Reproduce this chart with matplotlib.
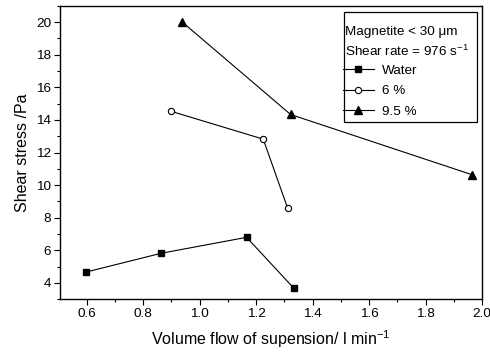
import matplotlib
matplotlib.use("Agg")
import matplotlib.pyplot as plt
from matplotlib.ticker import MultipleLocator
from matplotlib.patches import Rectangle

plt.rcParams['font.family'] = ['Liberation Sans', 'DejaVu Sans']
plt.rcParams['mathtext.fontset'] = 'custom'
plt.rcParams['mathtext.rm'] = 'Liberation Sans'

# data
water_x = [0.597, 0.863, 1.166, 1.334]
water_y = [4.67, 5.82, 6.80, 3.67]
pct6_x = [0.898, 1.225, 1.311]
pct6_y = [14.53, 12.82, 8.61]
pct95_x = [0.938, 1.322, 1.966]
pct95_y = [20.0, 14.33, 10.63]

fig = plt.figure(figsize=(4.9, 3.54), dpi=100)
ax = fig.add_axes([0.1224, 0.1545, 0.8613, 0.8294])

ax.plot(water_x, water_y, '-s', color='black', lw=0.8, ms=5, label='Water')
ax.plot(pct6_x, pct6_y, '-o', color='black', mfc='white', mew=0.8, lw=0.8, ms=4.5, label='6 %')
ax.plot(pct95_x, pct95_y, '-^', color='black', lw=0.8, ms=5.5, label='9.5 %')

ax.set_xlim(0.505, 2.0)
ax.set_ylim(3, 21)
ax.xaxis.set_major_locator(MultipleLocator(0.2))
ax.xaxis.set_minor_locator(MultipleLocator(0.1))
ax.yaxis.set_major_locator(MultipleLocator(2))
ax.yaxis.set_minor_locator(MultipleLocator(1))
ax.set_yticks([4, 6, 8, 10, 12, 14, 16, 18, 20])
ax.tick_params(which='major', direction='out', length=4, width=0.8, labelsize=9.7, pad=2.5)
ax.tick_params(which='minor', direction='out', length=2.2, width=0.8)
for s in ax.spines.values():
    s.set_linewidth(1.0)

ax.set_xlabel('Volume flow of supension/ l min$^{-1}$', fontsize=11.5, labelpad=6)
ax.set_ylabel('Shear stress /Pa', fontsize=11.5, labelpad=4)

# legend box with two header lines
ax.add_patch(Rectangle((344 / 490, 1 - 122.3 / 354), (477 - 344) / 490, (122.3 - 11.7) / 354,
                       transform=fig.transFigure, fill=False, lw=0.9, ec='black', zorder=5))
fig.text(345 / 490, 1 - 31.7 / 354, 'Magnetite < 30 μm', fontsize=9.7, va='center')
fig.text(345 / 490, 1 - 51 / 354, 'Shear rate = 976 s$^{-1}$', fontsize=9.7, va='center')
fig.legend(loc='upper left', bbox_to_anchor=(343 / 490, 1 - 64.5 / 354), frameon=False,
           fontsize=9.7, handlelength=2.3, handletextpad=0.6, labelspacing=0.6,
           borderaxespad=0, borderpad=0)

fig.savefig('out.png', dpi=100)
